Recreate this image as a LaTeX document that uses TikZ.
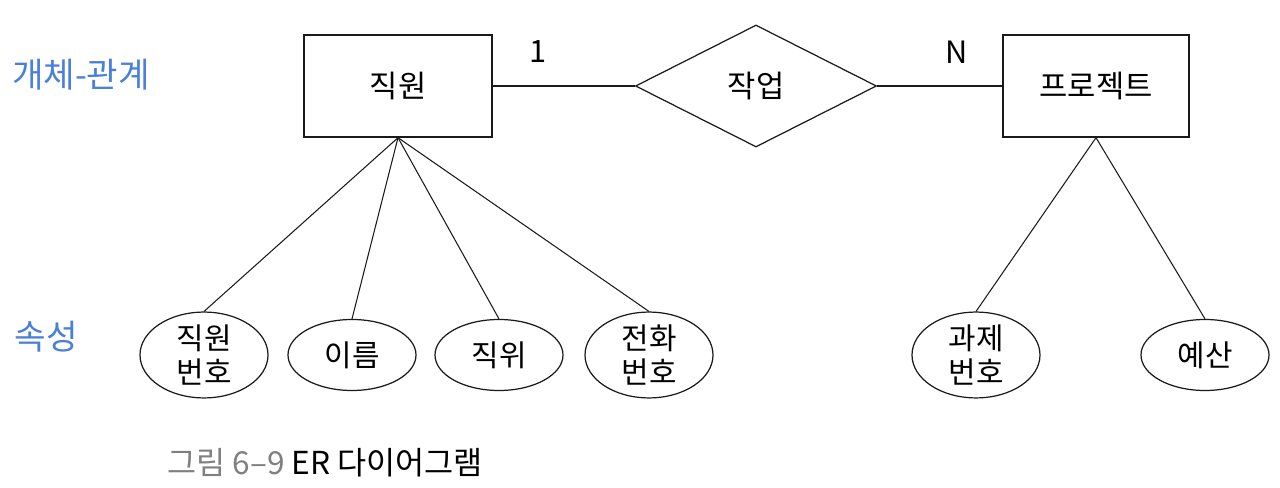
\documentclass[tikz,border=0pt]{standalone}
\usepackage{fontspec}
\setmainfont{Noto Sans CJK KR}
\usepackage{tikz}
\usetikzlibrary{shapes.geometric}
\definecolor{Pluma}{HTML}{4A80DC}
\definecolor{Leyenda}{HTML}{808080}
\definecolor{Trazo}{HTML}{1A1A1A}

\begin{document}
\begin{tikzpicture}[
  every node/.style={font=\fontsize{17.5}{20}\selectfont},
  entidad/.style={draw=Trazo,line width=0.8pt,minimum width=3.76cm,minimum height=2.04cm,inner sep=0pt},
  relacion/.style={diamond,draw=Trazo,line width=0.7pt,minimum width=4.82cm,minimum height=2.44cm,inner sep=0pt},
  atributo/.style={ellipse,draw=Trazo,line width=0.7pt,minimum width=2.56cm,minimum height=1.42cm,inner sep=0pt,align=center,font=\fontsize{17}{19.5}\selectfont},
  enlace/.style={draw=Trazo,line width=0.6pt},
  nota/.style={text=Pluma,font=\fontsize{19.5}{22}\selectfont}
]
  \useasboundingbox (0,0) rectangle (25.60,9.76);

  \node[nota] (lblER) at (1.62,8.26) {개체-관계};
  \node[nota] (lblAt) at (0.92,3.02) {속성};

  % 개체와 관계
  \node[entidad] (emp) at (7.96,8.04) {직원};
  \node[relacion] (work) at (15.12,8.04) {작업};
  \node[entidad,minimum width=3.72cm] (proj) at (21.92,8.04) {프로젝트};
  \draw[enlace] (emp.east) -- (work.west);
  \draw[enlace] (work.east) -- (proj.west);
  \node (card1) at (10.76,8.72) {1};
  \node (cardN) at (19.14,8.72) {N};

  % 속성
  \node[atributo] (empNo) at (4.08,2.66) {직원\\번호};
  \node[atributo] (name) at (7.04,2.66) {이름};
  \node[atributo] (rank) at (9.98,2.66) {직위};
  \node[atributo] (phone) at (12.98,2.66) {전화\\번호};
  \node[atributo] (taskNo) at (19.52,2.66) {과제\\번호};
  \node[atributo] (budget) at (24.10,2.66) {예산};

  \foreach \a in {empNo,name,rank,phone}
    \draw[enlace] (emp.south) -- (\a.north);
  \foreach \a in {taskNo,budget}
    \draw[enlace] (proj.south) -- (\a.north);

  \node[anchor=west,font=\fontsize{18}{21}\selectfont] (cap) at (3.22,0.50)
    {\textcolor{Leyenda}{그림 6–9} ER 다이어그램};
\end{tikzpicture}
\end{document}
